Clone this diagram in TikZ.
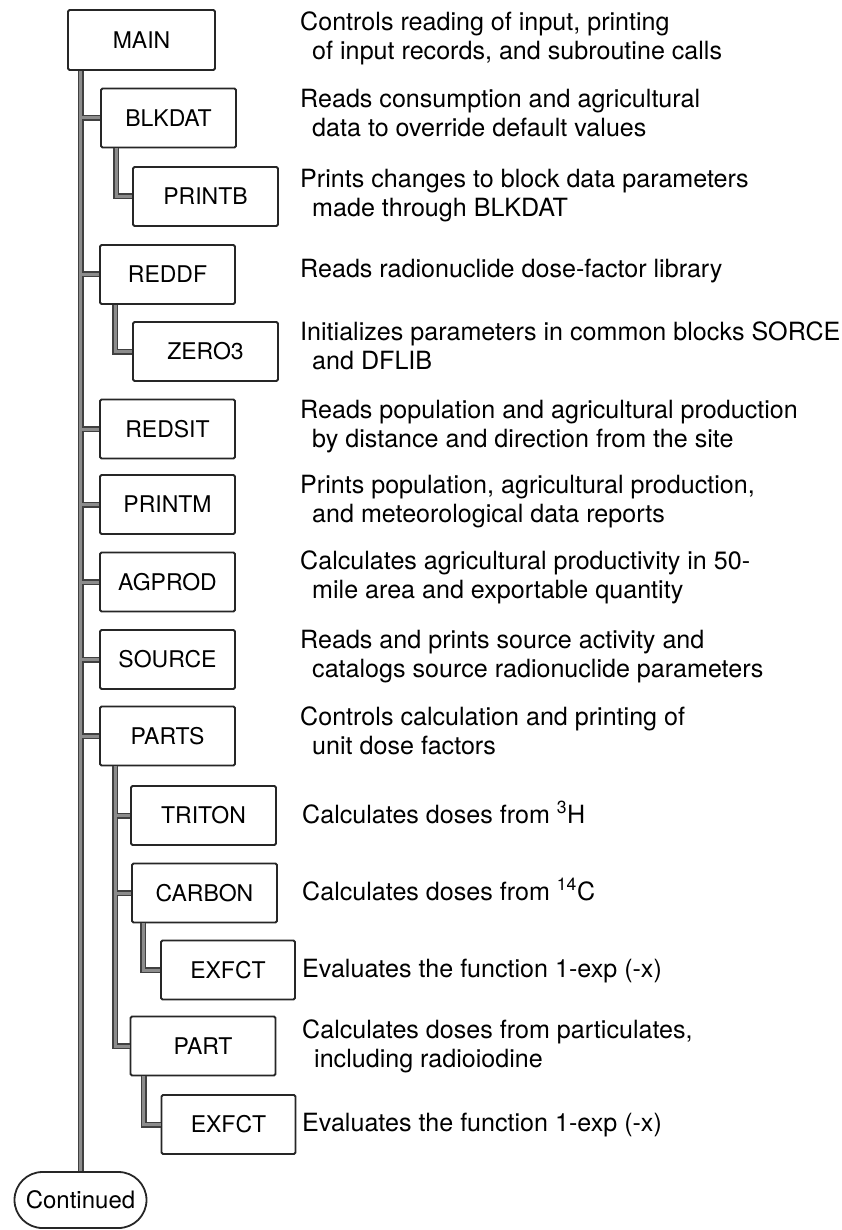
\documentclass[tikz,border=0pt]{standalone}
\usepackage{fontspec}
\setmainfont{TeX Gyre Heros}
\usetikzlibrary{shapes.misc}
\begin{document}
\begin{tikzpicture}[x=1pt,y=-1pt,
  box/.style={draw=black!85, line width=1.8pt, rounded corners=1.5pt, fill=white,
    inner sep=0pt, minimum height=59pt, font=\fontsize{23}{27}\selectfont},
  lvA/.style={box, minimum width=135pt},
  lvB/.style={box, minimum width=145pt},
  lvC/.style={box, minimum width=134pt},
  % base west of a two-line description sits on its second line
  desc/.style={anchor=base west, align=left, inner sep=0pt,
    font=\fontsize{25.1}{29}\selectfont},
  barout/.style={draw=black!75, line width=6pt},
  barin/.style={draw=black!45, line width=3pt},
]
\useasboundingbox (0,0) rectangle (842,1230);

% subroutine boxes
\node[box, minimum width=147pt, minimum height=60pt] (main) at (141.5,40) {MAIN};
\node[lvA] (blkdat) at (168.5,118) {BLKDAT};
\node[lvB] (printb) at (205.5,196.5) {PRINTB};
\node[lvA] (reddf)  at (167.5,274.5) {REDDF};
\node[lvB] (zero3)  at (205.5,351.5) {ZERO3};
\node[lvA] (redsit) at (167.5,429) {REDSIT};
\node[lvA] (printm) at (167.5,504.5) {PRINTM};
\node[lvA] (agprod) at (167.5,582) {AGPROD};
\node[lvA] (source) at (167.5,659.5) {SOURCE};
\node[lvA] (parts)  at (167.5,736) {PARTS};
\node[lvB] (triton) at (203.5,815.5) {TRITON};
\node[lvB] (carbon) at (204.5,893) {CARBON};
\node[lvC] (exfcta) at (228,970) {EXFCT};
\node[lvB] (part)   at (203,1046) {PART};
\node[lvC] (exfctb) at (228.5,1124.5) {EXFCT};
\node[draw=black!85, line width=1.8pt, rounded rectangle, minimum width=132pt,
  minimum height=56pt, inner sep=0pt, font=\fontsize{24}{28}\selectfont]
  (cont) at (80.5,1200) {Continued};

% descriptions
\node[desc] (dmain) at (300,59.5) {Controls reading of input, printing\\\hspace*{12pt}of input records, and subroutine calls};
\node[desc] (dblkdat) at (300,137) {Reads consumption and agricultural\\\hspace*{12pt}data to override default values};
\node[desc] (dprintb) at (300,217) {Prints changes to block data parameters\\\hspace*{12pt}made through BLKDAT};
\node[desc] (dreddf) at (300,278) {Reads radionuclide dose-factor library};
\node[desc] (dzero3) at (300,369) {Initializes parameters in common blocks SORCE\\\hspace*{12pt}and DFLIB};
\node[desc] (dredsit) at (300,447) {Reads population and agricultural production\\\hspace*{12pt}by distance and direction from the site};
\node[desc] (dprintm) at (300,522) {Prints population, agricultural production,\\\hspace*{12pt}and meteorological data reports};
\node[desc] (dagprod) at (300,598) {Calculates agricultural productivity in 50-\\\hspace*{12pt}mile area and exportable quantity};
\node[desc] (dsource) at (300,677) {Reads and prints source activity and\\\hspace*{12pt}catalogs source radionuclide parameters};
\node[desc] (dparts) at (300,754) {Controls calculation and printing of\\\hspace*{12pt}unit dose factors};
\node[desc] (dtriton) at (302,823) {Calculates doses from \textsuperscript{3}H};
\node[desc] (dcarbon) at (302,900) {Calculates doses from \textsuperscript{14}C};
\node[desc] (dexfcta) at (302,977) {Evaluates the function 1-exp (-x)};
\node[desc] (dpart) at (302,1067) {Calculates doses from particulates,\\\hspace*{12pt}including radioiodine};
\node[desc] (dexfctb) at (302,1131) {Evaluates the function 1-exp (-x)};

% branch points of the call bars
\coordinate (kblk) at ([xshift=16pt]blkdat.south west);
\coordinate (kred) at ([xshift=16pt]reddf.south west);
\coordinate (kpar) at ([xshift=16pt]parts.south west);
\coordinate (kcar) at ([xshift=12pt]carbon.south west);
\coordinate (kpt)  at ([xshift=14pt]part.south west);

% call bars: dark outline pass, then grey core pass
\foreach \sty in {barout,barin}{
  \draw[\sty] (main.south west -| cont.north) -- (cont.north);
  \foreach \n in {blkdat,reddf,redsit,printm,agprod,source,parts}
    \draw[\sty] (\n.west -| cont.north) -- (\n.west);
  \draw[\sty] (kblk) |- (printb.west);
  \draw[\sty] (kred) |- (zero3.west);
  \draw[\sty] (kpar) |- (part.west);
  \draw[\sty] (triton.west -| kpar) -- (triton.west);
  \draw[\sty] (carbon.west -| kpar) -- (carbon.west);
  \draw[\sty] (kcar) |- (exfcta.west);
  \draw[\sty] (kpt) |- (exfctb.west);
}
\end{tikzpicture}
\end{document}
